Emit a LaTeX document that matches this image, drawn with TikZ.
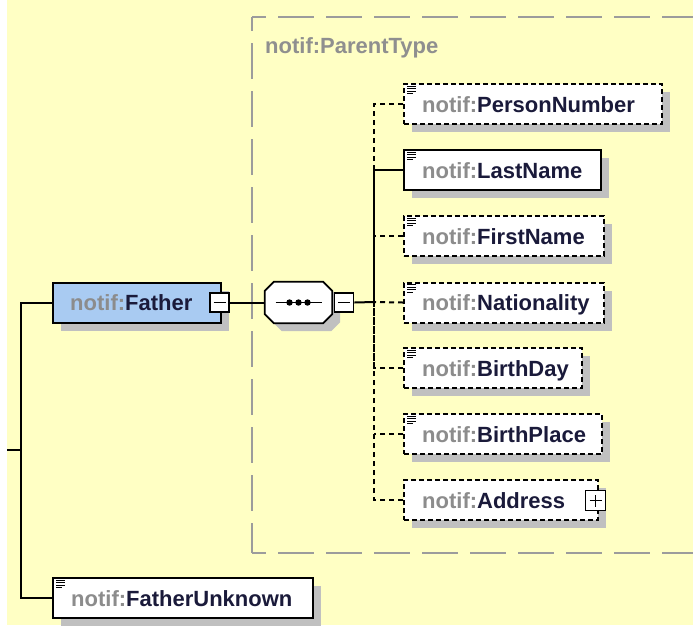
\documentclass[tikz,border=0pt]{standalone}
\usepackage{fontspec}
\setmainfont{Liberation Sans}
\usetikzlibrary{shadows}
\definecolor{bgyellow}{HTML}{FFFFC4}
\definecolor{fblue}{HTML}{A9CBF2}
\definecolor{shgray}{HTML}{C0C0C0}
\definecolor{nsgray}{HTML}{8C8C8C}
\definecolor{namecol}{HTML}{1A1A3A}
\definecolor{ptgray}{HTML}{8F8F8F}
\definecolor{ptline}{HTML}{9C9C9C}
\newcommand\elemlabel[1]{\textcolor{nsgray}{notif:}\textcolor{namecol}{#1}}
\tikzset{
  elem/.style={draw=black, line width=2pt, fill=white, minimum height=40pt,
    inner sep=0pt, anchor=west,
    general shadow={fill=shgray, shadow xshift=8pt, shadow yshift=-8pt}},
  optelem/.style={elem, dash pattern=on 5pt off 3pt},
  lbl/.style={font=\fontsize{22}{24}\selectfont\bfseries, inner sep=0pt, anchor=base west},
  conn/.style={line width=2pt, draw=black},
  dconn/.style={conn, dash pattern=on 5pt off 4pt},
  ptdash/.style={ptline, line width=2pt, dash pattern=on 36pt off 12pt, dash phase=22pt},
  togbox/.style={draw=black, line width=1.6pt, fill=white, minimum size=19pt, inner sep=0pt},
  minusbox/.style={togbox, path picture={\draw[line width=1.6pt]
      ([xshift=-6pt]path picture bounding box.center) -- ([xshift=6pt]path picture bounding box.center);}},
  plusbox/.style={togbox, minimum size=20pt, path picture={\draw[line width=1.6pt]
      ([xshift=-6pt]path picture bounding box.center) -- ([xshift=6pt]path picture bounding box.center)
      ([yshift=-6pt]path picture bounding box.center) -- ([yshift=6pt]path picture bounding box.center);}},
  docic/.pic={\draw[line width=1pt, black] (0,0)--(9,0) (0,2.5)--(9,2.5) (0,5)--(9,5) (0,7.5)--(6,7.5);},
}
\begin{document}
\begin{tikzpicture}[x=1pt, y=-1pt]
\useasboundingbox (0,0) rectangle (693,625);
\clip (0,0) rectangle (693,625);
\fill[white] (0,0) rectangle (693,625);
\fill[bgyellow] (7,0) rectangle (693,625);

% ParentType group box
\coordinate (ptc1) at (252,17);
\coordinate (ptc2) at (252,553);
\draw[ptdash] (ptc1) -- (720,17);
\draw[ptdash] (ptc1) -- (ptc2);
\draw[ptdash] (ptc2) -- (720,553);
\node[lbl, text=ptgray] (ptl) at (265,53) {notif:ParentType};

% left junction
\coordinate (stub) at (7,450);
\coordinate (jl) at (21,450);
\coordinate (tx) at (374,302);

% nodes (boxes)
\node[elem, fill=fblue, minimum width=168pt] (father) at (52,302.5) {};
\node[elem, minimum width=260pt] (fu) at (52,598) {};

% connectors left
\draw[conn] (stub) -- (jl);
\draw[conn] (father.west) -| (jl) |- (fu.west);

% sequence
\node[minimum width=67pt, minimum height=41pt, inner sep=0pt] (seq) at (298.5,302.5) {};
\fill[shgray] ([shift={(17,8)}]seq.north west) -- ([shift={(-1,8)}]seq.north east) -- ([shift={(8,17)}]seq.north east)
  -- ([shift={(8,-1)}]seq.south east) -- ([shift={(-1,8)}]seq.south east) -- ([shift={(17,8)}]seq.south west)
  -- ([shift={(8,-1)}]seq.south west) -- ([shift={(8,17)}]seq.north west) -- cycle;
\draw[line width=1.8pt, fill=white] ([xshift=9pt]seq.north west) -- ([xshift=-9pt]seq.north east) -- ([shift={(0,9)}]seq.north east)
  -- ([shift={(0,-9)}]seq.south east) -- ([xshift=-9pt]seq.south east) -- ([xshift=9pt]seq.south west)
  -- ([shift={(0,-9)}]seq.south west) -- ([shift={(0,9)}]seq.north west) -- cycle;
\draw[line width=1.6pt] ([xshift=-23pt]seq.center) -- ([xshift=23pt]seq.center);
\foreach \dx in {-9,0,9} \fill ([xshift=\dx pt]seq.center) circle (3.2pt);

\node[minusbox] (fm) at (219.5,302.5) {};
\node[minusbox] (sm) at (344,302.5) {};
\draw[conn] (fm.east) -- (seq.west);
\draw[conn] (sm.east) -- (tx);

% children
\node[optelem, minimum width=258pt] (pn) at (403,104) {};
\node[elem, minimum width=197pt] (ln) at (403,170) {};
\node[optelem, minimum width=200pt] (fn) at (403,236) {};
\node[optelem, minimum width=200pt] (nat) at (403,302.5) {};
\node[optelem, minimum width=178pt] (bd) at (403,368) {};
\node[optelem, minimum width=198pt] (bp) at (403,434) {};
\node[optelem, minimum width=194pt] (ad) at (403,500) {};

% child connectors
\draw[dconn] (pn.west) -| (tx);
\draw[dconn] (fn.west) -- (fn.west -| tx);
\draw[dconn] (nat.west) -- (tx);
\draw[dconn] (bd.west) -| (tx);
\draw[dconn] (bp.west) -- (bp.west -| tx);
\draw[dconn] (ad.west) -| (tx);
\draw[conn] (ln.west) -| (tx);

\node[plusbox] (ap) at (595.5,500.5) {};

% icons
\foreach \n in {pn,ln,fn,nat,bd,bp,fu} \pic at ([shift={(4,3)}]\n.north west) {docic};

% labels
\node[lbl] (fatherL) at (70,310) {\elemlabel{Father}};
\node[lbl] (fuL) at (71,606) {\elemlabel{FatherUnknown}};
\node[lbl] (pnL) at (422,112) {\elemlabel{PersonNumber}};
\node[lbl] (lnL) at (422,178) {\elemlabel{LastName}};
\node[lbl] (fnL) at (422,244) {\elemlabel{FirstName}};
\node[lbl] (natL) at (422,310) {\elemlabel{Nationality}};
\node[lbl] (bdL) at (422,376) {\elemlabel{BirthDay}};
\node[lbl] (bpL) at (422,442) {\elemlabel{BirthPlace}};
\node[lbl] (adL) at (422,508) {\elemlabel{Address}};
\end{tikzpicture}
\end{document}
